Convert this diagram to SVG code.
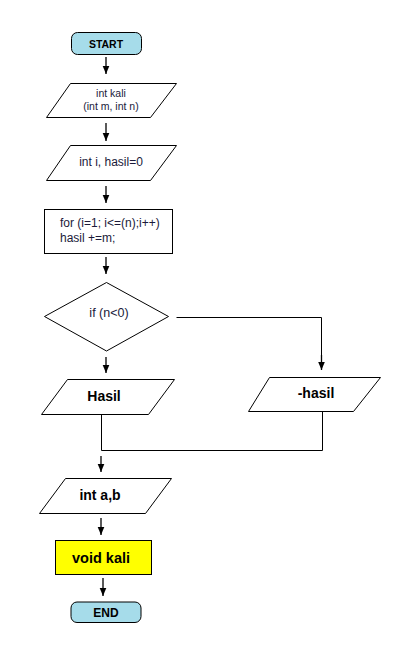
<svg xmlns="http://www.w3.org/2000/svg" width="402" height="654" viewBox="0 0 402 654">
<defs>
<marker id="ah" markerWidth="9" markerHeight="8" refX="8.5" refY="4" orient="auto" markerUnits="userSpaceOnUse" viewBox="0 0 9 8">
<path d="M0,0.5 L8.5,4 L0,7.5 Z" fill="#000"/>
</marker>
</defs>
<style>
.shape{fill:#fff;stroke:#000;stroke-width:1}
.term{fill:#a6dcea;stroke:#000;stroke-width:1}
.proc{fill:#ffff00;stroke:#000;stroke-width:1}
.t{font-family:"Liberation Sans",Arial,sans-serif;fill:#1a1a3a;text-anchor:middle}
.s{font-size:10.5px}
.m{font-size:12px}
.b{font-size:14px;font-weight:bold;fill:#000}
.bs{font-size:10.5px;font-weight:bold;fill:#000}
.c{fill:none;stroke:#000;stroke-width:1}
.a{fill:none;stroke:#000;stroke-width:1.3;marker-end:url(#ah)}
</style>
<rect width="402" height="654" fill="#fff"/>
<g id="start">
<rect class="term" x="71.5" y="32.5" width="70" height="22" rx="6"/>
<text class="t bs" x="106" y="47.5">START</text>
</g>
<g id="input-kali">
<polygon class="shape" points="70.5,83.5 176.5,83.5 150.5,117.5 46.5,117.5"/>
<text class="t s" x="111" y="96.5">int kali</text>
<text class="t s" x="111" y="109.5">(int m, int n)</text>
</g>
<g id="init">
<polygon class="shape" points="70.5,145.5 176.5,145.5 150.5,180.5 46.5,180.5"/>
<text class="t m" x="111" y="166">int i, hasil=0</text>
</g>
<g id="loop">
<rect class="shape" x="44.5" y="209.5" width="128" height="44"/>
<text class="t m" x="60" y="227" style="text-anchor:start">for (i=1; i&lt;=(n);i++)</text>
<text class="t m" x="60" y="242" style="text-anchor:start">hasil +=m;</text>
</g>
<g id="decision">
<polygon class="shape" points="106.5,282.5 168.5,316.5 106.5,351 44.5,316.5"/>
<text class="t m" x="109" y="317" style="font-size:12.5px">if (n&lt;0)</text>
</g>
<g id="hasil">
<polygon class="shape" points="67.5,379.5 174.5,379.5 148.5,414.5 41.5,414.5"/>
<text class="t b" x="104" y="400.5">Hasil</text>
</g>
<g id="neg-hasil">
<polygon class="shape" points="269.5,377.5 380.5,377.5 353.5,411.5 248.5,411.5"/>
<text class="t b" x="316" y="397.5">-hasil</text>
</g>
<g id="int-ab">
<polygon class="shape" points="65.5,478.5 171.5,478.5 145.5,513.5 39.5,513.5"/>
<text class="t b" x="100" y="499.5">int a,b</text>
</g>
<g id="void-kali">
<rect class="proc" x="55.5" y="540.5" width="96" height="34"/>
<text class="t b" x="101" y="562.5" style="font-size:14.5px">void kali</text>
</g>
<g id="end">
<rect class="term" x="71" y="602" width="70" height="20.5" rx="6"/>
<text class="t bs" x="106" y="617" style="font-size:12px">END</text>
</g>
<g id="connectors">
<line class="a" x1="106" y1="57" x2="106" y2="74"/>
<line class="a" x1="106" y1="123" x2="106" y2="141"/>
<line class="a" x1="106" y1="186" x2="106" y2="203"/>
<line class="a" x1="106" y1="257" x2="106" y2="274"/>
<line class="a" x1="106" y1="357" x2="106" y2="373"/>
<polyline class="c" points="176.5,317.5 321.5,317.5 321.5,360"/>
<line class="a" x1="321.5" y1="355" x2="321.5" y2="370"/>
<polyline class="c" points="101.5,414.5 101.5,450.5 322.5,450.5 322.5,411.5"/>
<line class="a" x1="101" y1="456" x2="101" y2="472"/>
<line class="a" x1="101" y1="518" x2="101" y2="535"/>
<line class="a" x1="103" y1="578" x2="103" y2="596"/>
</g>
</svg>
